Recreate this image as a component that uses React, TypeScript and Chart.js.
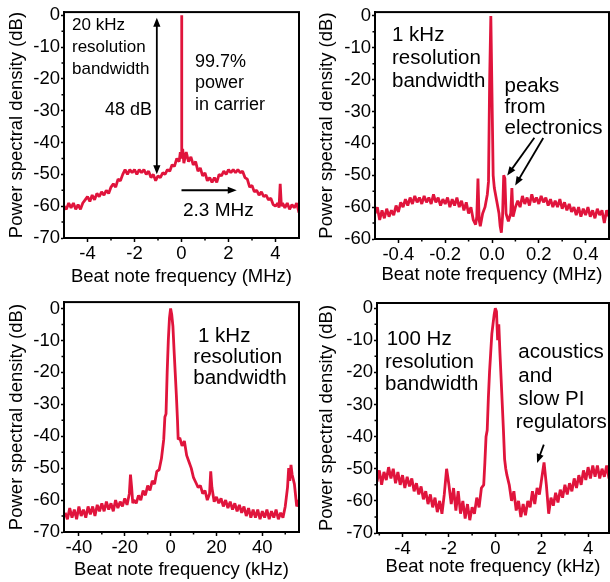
import React, { useEffect, useRef } from 'react';
import { Chart, registerables } from 'chart.js';

Chart.register(...registerables);

// ---------------- data ----------------
// Panel 1: 20 kHz RBW, MHz
const p1Freq = [-5.0, -4.9, -4.8, -4.7, -4.6, -4.5, -4.4, -4.3, -4.2, -4.1, -4.0, -3.9, -3.8, -3.7, -3.6, -3.5, -3.4, -3.3, -3.2, -3.1, -3.0, -2.9, -2.8, -2.7, -2.6, -2.5, -2.4, -2.3, -2.2, -2.1, -2.0, -1.9, -1.8, -1.7, -1.6, -1.5, -1.4, -1.3, -1.2, -1.1, -1.0, -0.9, -0.8, -0.7, -0.6, -0.5, -0.4, -0.3, -0.2, -0.1, -0.05, -0.02, 0, 0.02, 0.05, 0.1, 0.2, 0.3, 0.4, 0.5, 0.6, 0.7, 0.8, 0.9, 1.0, 1.1, 1.2, 1.3, 1.4, 1.5, 1.6, 1.7, 1.8, 1.9, 2.0, 2.1, 2.2, 2.3, 2.4, 2.5, 2.6, 2.7, 2.8, 2.9, 3.0, 3.1, 3.2, 3.3, 3.4, 3.5, 3.6, 3.7, 3.8, 3.9, 4.0, 4.1, 4.15, 4.2, 4.25, 4.3, 4.4, 4.5, 4.6, 4.7, 4.8, 4.9, 5.0];
const p1Psd = [-60, -61, -59, -60.5, -59, -61, -59.5, -61, -59, -58, -57, -58.5, -56.5, -58, -56, -57, -55.5, -56.5, -55, -56, -54, -53, -54, -51.5, -52, -50, -48.5, -50, -48.5, -49.5, -48.5, -50, -48.5, -49.5, -48.5, -50, -49, -51, -50, -52, -50.5, -51, -49.5, -50, -48.5, -49, -47, -47.5, -45, -46, -43, -44, 0, -45, -42, -46.5, -43, -46, -44.5, -47, -46, -49, -48, -50.5, -49.5, -52, -51, -52.5, -51, -52.5, -50, -50.5, -49, -50, -48.5, -49.5, -48.5, -49.5, -48.5, -49.5, -49, -51, -51.5, -54, -53.5, -55.5, -55, -56.5, -55.5, -57, -56.5, -58, -57.5, -59.5, -60, -59, -60.5, -53, -60, -59, -60.5, -59, -61, -59.5, -60.5, -59, -62];

// Panel 2: 1 kHz RBW, MHz
const p2Freq = [-0.50, -0.49, -0.48, -0.47, -0.46, -0.45, -0.44, -0.43, -0.42, -0.41, -0.40, -0.39, -0.38, -0.37, -0.36, -0.35, -0.34, -0.33, -0.32, -0.31, -0.30, -0.29, -0.28, -0.27, -0.26, -0.25, -0.24, -0.23, -0.22, -0.21, -0.20, -0.19, -0.18, -0.17, -0.16, -0.15, -0.14, -0.13, -0.12, -0.11, -0.10, -0.09, -0.08, -0.07, -0.065, -0.06, -0.055, -0.05, -0.04, -0.03, -0.02, -0.015, -0.01, -0.005, 0.0, 0.005, 0.01, 0.02, 0.03, 0.035, 0.04, 0.045, 0.05, 0.055, 0.06, 0.07, 0.08, 0.085, 0.09, 0.10, 0.11, 0.12, 0.13, 0.14, 0.15, 0.16, 0.17, 0.18, 0.19, 0.20, 0.21, 0.22, 0.23, 0.24, 0.25, 0.26, 0.27, 0.28, 0.29, 0.30, 0.31, 0.32, 0.33, 0.34, 0.35, 0.36, 0.37, 0.38, 0.39, 0.40, 0.41, 0.42, 0.43, 0.44, 0.45, 0.46, 0.47, 0.48, 0.49, 0.50];
const p2Psd = [-62, -60, -64, -61, -63.5, -60.5, -63, -61, -62.5, -59.5, -61.5, -58.5, -60, -57.5, -59.5, -57, -59, -56.5, -58.5, -57, -59, -56.5, -58.5, -57, -59, -56, -58.5, -57, -59.5, -57.5, -59, -57, -60, -57.5, -59.5, -57, -60, -58, -61, -58.5, -62, -60, -64, -65.5, -63, -51, -64, -66, -62, -60, -56, -52, -20, 0, -25, -50, -54, -58, -62, -66, -68, -63, -50, -51, -62, -64.5, -62, -54, -63, -60, -58, -60, -56.5, -59, -57, -59.5, -56, -58.5, -57, -59, -56.5, -58.5, -57, -59.5, -57.5, -60, -58, -60, -57.5, -60.5, -58.5, -61, -59, -61.5, -60, -62.5, -60, -63, -60.5, -62.5, -60, -63, -61, -63.5, -60.5, -62.5, -61, -65, -61, -63];

// Panel 3: 1 kHz RBW, kHz
const p3Freq = [-46, -45, -44, -43, -42, -41, -40, -39, -38, -37, -36, -35, -34, -33, -32, -31, -30, -29, -28, -27, -26, -25, -24, -23, -22, -21, -20, -19, -18, -17.5, -17, -16.5, -16, -15, -14, -13, -12, -11, -10, -9, -8, -7, -6, -5, -4, -3.5, -3, -2.5, -2, -1.5, -1, -0.5, 0, 0.5, 1, 1.5, 2, 2.5, 3, 3.3, 4, 5, 6, 7, 8, 9, 10, 11, 12, 13, 14, 15, 16, 17, 17.5, 18, 19, 20, 21, 22, 23, 24, 25, 26, 27, 28, 29, 30, 31, 32, 33, 34, 35, 36, 37, 38, 39, 40, 41, 42, 43, 44, 45, 46, 47, 48, 49, 50, 51, 51.5, 52, 52.5, 53, 54, 55, 56];
const p3Psd = [-64, -66, -62.5, -65.5, -63, -66, -62, -65, -63, -65.5, -62, -64.5, -62, -65, -61.5, -63.5, -61, -63.5, -60.5, -63, -61, -63.5, -60, -62.5, -60.5, -62, -59.5, -61.5, -58, -52, -56, -61, -60, -61, -58.5, -60, -57, -58.5, -55.5, -57, -54, -55, -51, -50.5, -47, -44, -41, -34, -33, -20, -10, -3, 0, -2, -5.5, -13, -20, -27, -35, -41, -40.5, -43, -41.5, -46, -48, -50, -53, -54.5, -56, -55.5, -58, -57, -60, -58, -51, -56, -60.5, -59, -61, -59.5, -62, -60, -62.5, -60.5, -63, -61, -63.5, -61.5, -64, -62, -65, -62.5, -65.5, -63, -65.5, -63, -66, -63.5, -65.5, -63, -66, -63.5, -65.5, -63, -66, -64, -65.5, -62, -56, -50, -54, -49, -52, -55, -62, -60];

// Panel 4: 100 Hz RBW, kHz
const p4Freq = [-5.1, -5.0, -4.9, -4.8, -4.7, -4.6, -4.5, -4.4, -4.3, -4.2, -4.1, -4.0, -3.9, -3.8, -3.7, -3.6, -3.5, -3.4, -3.3, -3.2, -3.1, -3.0, -2.9, -2.8, -2.7, -2.6, -2.5, -2.4, -2.3, -2.2, -2.1, -2.0, -1.9, -1.8, -1.7, -1.6, -1.5, -1.4, -1.3, -1.2, -1.1, -1.0, -0.9, -0.8, -0.7, -0.6, -0.5, -0.45, -0.4, -0.35, -0.3, -0.25, -0.2, -0.15, -0.1, -0.05, 0.0, 0.05, 0.1, 0.15, 0.2, 0.25, 0.3, 0.35, 0.4, 0.45, 0.5, 0.6, 0.7, 0.8, 0.9, 1.0, 1.1, 1.2, 1.3, 1.4, 1.5, 1.6, 1.7, 1.8, 1.9, 2.0, 2.1, 2.2, 2.3, 2.4, 2.5, 2.6, 2.7, 2.8, 2.9, 3.0, 3.1, 3.2, 3.3, 3.4, 3.5, 3.6, 3.7, 3.8, 3.9, 4.0, 4.1, 4.2, 4.3, 4.4, 4.5, 4.6, 4.7, 4.8, 4.9];
const p4Psd = [-54, -50.5, -55, -51, -53.5, -49.5, -53, -50, -54.5, -51, -55, -52, -56, -52.5, -55.5, -53, -57, -54.5, -58, -55.5, -59.5, -57, -61, -58, -62, -59, -63.5, -60, -64, -58, -50, -55, -61, -56, -63, -57, -64, -60, -65.5, -61, -66, -62, -64, -59, -62, -56, -55, -48, -40, -38, -28, -20, -14, -8, -5, -2, 0, -1, -10, -5, -14, -22, -30, -38, -47, -50, -52, -55, -60, -57, -63, -60, -65, -61, -64.5, -60, -62, -57, -61, -56, -58, -53, -48, -55, -64, -59, -61.5, -57.5, -60.5, -56.5, -59, -55, -58, -54.5, -57, -53, -56, -52, -55, -50.5, -53.5, -49.5, -53, -49, -52.5, -49, -53, -50, -52.5, -49, -53];

// ticks
const yTickValues = [0, -10, -20, -30, -40, -50, -60, -70];
const yTickLabels = ['0', '-10', '-20', '-30', '-40', '-50', '-60', '-70'];
const yTickLabelsP2 = ['0', '-10', '-20', '-30', '-40', '-50', '-60', '-60'];
const yMinorTicks = [-5, -15, -25, -35, -45, -55, -65];

const p1XTicks = [-4, -2, 0, 2, 4];
const p1XTickLabels = ['-4', '-2', '0', '2', '4'];
const p1XMinor = [-3, -1, 1, 3];
const p2XTicks = [-0.4, -0.2, 0, 0.2, 0.4];
const p2XTickLabels = ['-0.4', '-0.2', '0.0', '0.2', '0.4'];
const p2XMinor = [-0.3, -0.1, 0.1, 0.3];
const p3XTicks = [-40, -20, 0, 20, 40];
const p3XTickLabels = ['-40', '-20', '0', '20', '40'];
const p3XMinor = [-30, -10, 10, 30, 50];
const p4XTicks = [-4, -2, 0, 2, 4];
const p4XTickLabels = ['-4', '-2', '0', '2', '4'];
const p4XMinor = [-5, -3, -1, 1, 3];

const Y_TITLE = 'Power spectral density (dB)';
const X_TITLE_MHZ = 'Beat note frequency (MHz)';
const X_TITLE_KHZ = 'Beat note frequency (kHz)';

// ---------------- styling / layout ----------------
const FONT = '"Liberation Sans", Arial, Helvetica, sans-serif';
const RED = '#e0143c';
const AXIS_FONT_SIZE = 18.5;

type TextItem = { lines: string[]; x: number; y: number; lh?: number; size: number; align?: CanvasTextAlign };
type ArrowItem = { x1: number; y1: number; x2: number; y2: number; both?: boolean };
type Panel = {
  left: number; top: number; width: number; height: number;
  area: { left: number; top: number; right: number; bottom: number };
  xMin: number; xMax: number; yMin: number; yMax: number;
  xTicks: number[]; xTickLabels: string[]; xMinor: number[];
  yLabels: string[];
  xTitle: string; yTitlePad: number; xTitlePad: number;
  freq: number[]; psd: number[];
  texts: TextItem[]; arrows: ArrowItem[];
};

const panels: Panel[] = [
  {
    left: 0, top: 0, width: 305, height: 290,
    area: { left: 64, top: 11, right: 299, bottom: 238 },
    xMin: -5, xMax: 5, yMin: -70, yMax: 1,
    xTicks: p1XTicks, xTickLabels: p1XTickLabels, xMinor: p1XMinor, yLabels: yTickLabels,
    xTitle: X_TITLE_MHZ, yTitlePad: 6, xTitlePad: 2,
    freq: p1Freq, psd: p1Psd,
    texts: [
      { lines: ['20 kHz', 'resolution', 'bandwidth'], x: 72, y: 30, lh: 22, size: 17 },
      { lines: ['48 dB'], x: 152, y: 115, size: 18, align: 'right' },
      { lines: ['99.7%', 'power', 'in carrier'], x: 195, y: 66.5, lh: 21.5, size: 18 },
      { lines: ['2.3 MHz'], x: 183, y: 216, size: 19 },
    ],
    arrows: [
      { x1: -1.05, y1: -50, x2: -1.05, y2: -0.8, both: true },
      { x1: 0, y1: -55, x2: 2.35, y2: -55 },
    ],
  },
  {
    left: 305, top: 0, width: 305, height: 290,
    area: { left: 70, top: 10, right: 304, bottom: 239 },
    xMin: -0.5, xMax: 0.5, yMin: -70, yMax: 1.2,
    xTicks: p2XTicks, xTickLabels: p2XTickLabels, xMinor: p2XMinor, yLabels: yTickLabelsP2,
    xTitle: X_TITLE_MHZ, yTitlePad: 11, xTitlePad: 4,
    freq: p2Freq, psd: p2Psd,
    texts: [
      { lines: ['1 kHz', 'resolution', 'bandwidth'], x: 87, y: 40.5, lh: 23.2, size: 20.5 },
      { lines: ['peaks', 'from', 'electronics'], x: 199.5, y: 92, lh: 20.8, size: 20.5 },
    ],
    arrows: [
      { x1: 0.181, y1: -38.2, x2: 0.065, y2: -50.1 },
      { x1: 0.219, y1: -38.3, x2: 0.099, y2: -53.2 },
    ],
  },
  {
    left: 0, top: 290, width: 305, height: 292,
    area: { left: 64, top: 12, right: 299, bottom: 242 },
    xMin: -46.5, xMax: 56, yMin: -70, yMax: 2,
    xTicks: p3XTicks, xTickLabels: p3XTickLabels, xMinor: p3XMinor, yLabels: yTickLabels,
    xTitle: X_TITLE_KHZ, yTitlePad: 6, xTitlePad: 1.2,
    freq: p3Freq, psd: p3Psd,
    texts: [
      { lines: ['1 kHz'], x: 198, y: 51.7, size: 20.5 },
      { lines: ['resolution', 'bandwidth'], x: 193.3, y: 73.3, lh: 20.8, size: 20.5 },
    ],
    arrows: [],
  },
  {
    left: 305, top: 290, width: 305, height: 292,
    area: { left: 72, top: 13, right: 304, bottom: 243 },
    xMin: -5.1, xMax: 4.9, yMin: -70, yMax: 1.6,
    xTicks: p4XTicks, xTickLabels: p4XTickLabels, xMinor: p4XMinor, yLabels: yTickLabels,
    xTitle: X_TITLE_KHZ, yTitlePad: 11, xTitlePad: 4.4,
    freq: p4Freq, psd: p4Psd,
    texts: [
      { lines: ['100 Hz'], x: 81.7, y: 55, size: 20.5 },
      { lines: ['resolution', 'bandwidth'], x: 80, y: 78.3, lh: 21.7, size: 20.5 },
      { lines: ['acoustics', 'and', 'slow PI'], x: 213.3, y: 68.3, lh: 23.3, size: 20.5 },
      { lines: ['regulators'], x: 210.7, y: 138.3, size: 20.5 },
    ],
    arrows: [{ x1: 2.09, y1: -42.5, x2: 1.8, y2: -48.2 }],
  },
];

function drawHead(ctx: CanvasRenderingContext2D, fx: number, fy: number, tx: number, ty: number) {
  const ang = Math.atan2(ty - fy, tx - fx);
  const len = 9;
  const hw = 3.6;
  ctx.beginPath();
  ctx.moveTo(tx, ty);
  ctx.lineTo(tx - len * Math.cos(ang) + hw * Math.sin(ang), ty - len * Math.sin(ang) - hw * Math.cos(ang));
  ctx.lineTo(tx - len * Math.cos(ang) - hw * Math.sin(ang), ty - len * Math.sin(ang) + hw * Math.cos(ang));
  ctx.closePath();
  ctx.fill();
}

function makeDeco(p: Panel) {
  return {
    id: 'deco',
    afterDraw(chart: any) {
      const ctx: CanvasRenderingContext2D = chart.ctx;
      const { left, right, top, bottom } = chart.chartArea;
      const xs = chart.scales.x;
      const ys = chart.scales.y;
      ctx.save();
      ctx.strokeStyle = '#000';
      ctx.fillStyle = '#000';
      // frame
      ctx.lineWidth = 2;
      ctx.strokeRect(left, top, right - left, bottom - top);
      // minor ticks
      ctx.lineWidth = 1.5;
      ctx.beginPath();
      p.xMinor.forEach((v) => {
        if (v <= p.xMin || v >= p.xMax) return;
        const px = xs.getPixelForValue(v);
        ctx.moveTo(px, bottom);
        ctx.lineTo(px, bottom + 2.5);
      });
      yMinorTicks.forEach((v) => {
        const py = ys.getPixelForValue(v);
        ctx.moveTo(left, py);
        ctx.lineTo(left - 2.5, py);
      });
      ctx.stroke();
      // arrows
      ctx.lineWidth = 1.8;
      p.arrows.forEach((a) => {
        const x1 = xs.getPixelForValue(a.x1);
        const y1 = ys.getPixelForValue(a.y1);
        const x2 = xs.getPixelForValue(a.x2);
        const y2 = ys.getPixelForValue(a.y2);
        const ang = Math.atan2(y2 - y1, x2 - x1);
        const sx = a.both ? x1 + 7 * Math.cos(ang) : x1;
        const sy = a.both ? y1 + 7 * Math.sin(ang) : y1;
        ctx.beginPath();
        ctx.moveTo(sx, sy);
        ctx.lineTo(x2 - 7 * Math.cos(ang), y2 - 7 * Math.sin(ang));
        ctx.stroke();
        drawHead(ctx, x1, y1, x2, y2);
        if (a.both) drawHead(ctx, x2, y2, x1, y1);
      });
      // texts
      ctx.textBaseline = 'alphabetic';
      p.texts.forEach((t) => {
        ctx.font = `${t.size}px ${FONT}`;
        ctx.textAlign = t.align || 'left';
        t.lines.forEach((line, i) => {
          ctx.fillText(line, t.x, t.y + i * (t.lh || 0));
        });
      });
      ctx.restore();
    },
  };
}

function PanelChart({ p }: { p: Panel }) {
  const ref = useRef<HTMLCanvasElement | null>(null);
  useEffect(() => {
    if (!ref.current) return;
    const tickFont = { family: FONT, size: AXIS_FONT_SIZE };
    const chart = new Chart(ref.current, {
      type: 'line',
      data: {
        datasets: [
          {
            data: p.freq.map((f, i) => ({ x: f, y: p.psd[i] })),
            borderColor: RED,
            borderWidth: 2.8,
            pointRadius: 0,
            tension: 0,
            fill: false,
            borderJoinStyle: 'bevel',
          },
        ],
      },
      options: {
        animation: false,
        responsive: false,
        maintainAspectRatio: false,
        devicePixelRatio: 1,
        layout: { padding: { left: 0, top: p.area.top, right: p.width - p.area.right, bottom: 0 } },
        plugins: { legend: { display: false }, tooltip: { enabled: false } },
        scales: {
          x: {
            type: 'linear',
            position: 'bottom',
            min: p.xMin,
            max: p.xMax,
            afterBuildTicks: (s: any) => {
              s.ticks = p.xTicks.map((v) => ({ value: v }));
            },
            afterFit: (s: any) => {
              s.height = p.height - p.area.bottom;
            },
            ticks: {
              autoSkip: false,
              maxRotation: 0,
              padding: 0.5,
              color: '#000',
              font: tickFont,
              callback: (_v: any, i: number) => p.xTickLabels[i],
            },
            grid: { display: true, drawOnChartArea: false, drawTicks: true, tickLength: 4, tickWidth: 1.5, color: '#000' },
            border: { display: true, color: '#000', width: 2 },
            title: { display: true, text: p.xTitle, color: '#000', font: { family: FONT, size: AXIS_FONT_SIZE }, padding: { top: 0, bottom: p.xTitlePad } },
          },
          y: {
            type: 'linear',
            position: 'left',
            min: p.yMin,
            max: p.yMax,
            afterBuildTicks: (s: any) => {
              s.ticks = yTickValues.map((v) => ({ value: v }));
            },
            afterFit: (s: any) => {
              s.width = p.area.left;
            },
            ticks: {
              autoSkip: false,
              padding: 1,
              color: '#000',
              font: tickFont,
              callback: (_v: any, i: number) => p.yLabels[i],
            },
            grid: { display: true, drawOnChartArea: false, drawTicks: true, tickLength: 3, tickWidth: 1.5, color: '#000' },
            border: { display: true, color: '#000', width: 2 },
            title: { display: true, text: Y_TITLE, color: '#000', font: { family: FONT, size: AXIS_FONT_SIZE }, padding: { top: p.yTitlePad, bottom: 0 } },
          },
        },
      } as any,
      plugins: [makeDeco(p)],
    });
    return () => chart.destroy();
  }, [p]);
  return (
    <canvas
      ref={ref}
      width={p.width}
      height={p.height}
      style={{ position: 'absolute', left: p.left, top: p.top, width: p.width, height: p.height, display: 'block' }}
    />
  );
}

export default function App() {
  return (
    <div style={{ position: 'absolute', left: 0, top: 0, width: 610, height: 582, background: '#fff', overflow: 'hidden' }}>
      {panels.map((p, i) => (
        <PanelChart key={i} p={p} />
      ))}
    </div>
  );
}
